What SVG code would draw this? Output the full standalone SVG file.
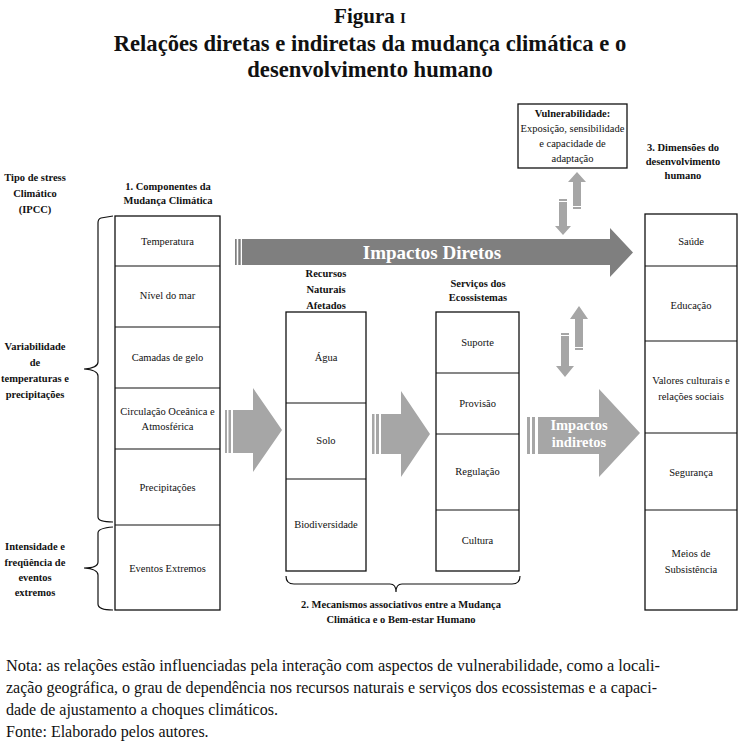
<svg xmlns="http://www.w3.org/2000/svg" width="740" height="746" viewBox="0 0 740 746">
<style>
.t{font-family:"Liberation Serif","Times New Roman",serif;font-size:10.5px;fill:#111;text-anchor:middle}
.b{font-weight:bold}
.ttl{font-family:"Liberation Serif","Times New Roman",serif;font-weight:bold;font-size:22.6px;fill:#111;text-anchor:middle}
.note{font-family:"Liberation Serif","Times New Roman",serif;font-size:16px;fill:#111}
.box{fill:#fff;stroke:#111;stroke-width:1.3}
.ln{stroke:#111;stroke-width:1.2}
.br{fill:none;stroke:#111;stroke-width:1.2}
.dark{fill:#7f7f7f}
.lite{fill:#a6a6a6}
.wt{font-family:"Liberation Serif","Times New Roman",serif;font-weight:bold;fill:#fff;text-anchor:middle}
</style>
<rect width="740" height="746" fill="#fff"/>

<g id="title">
<text class="ttl" x="370" y="23" style="font-size:21px">Figura <tspan style="font-size:15px">I</tspan></text>
<text class="ttl" x="370" y="51">Relações diretas e indiretas da mudança climática e o</text>
<text class="ttl" x="370" y="77">desenvolvimento humano</text>
</g>

<g id="stress-labels">
<text class="t b" x="35" y="181">Tipo de stress</text>
<text class="t b" x="35" y="197">Climático</text>
<text class="t b" x="35" y="213">(IPCC)</text>
<text class="t b" x="35" y="350">Variabilidade</text>
<text class="t b" x="35" y="366">de</text>
<text class="t b" x="35" y="382">temperaturas e</text>
<text class="t b" x="35" y="398">precipitações</text>
<text class="t b" x="35" y="550">Intensidade e</text>
<text class="t b" x="35" y="566">freqüência de</text>
<text class="t b" x="35" y="581">eventos</text>
<text class="t b" x="35" y="596">extremos</text>
<path class="br" d="M113,216 L101,218 Q98,219 98,223 L98,362 Q98,368 84,369 Q98,370 98,376 L98,517 Q98,522 113,522"/>
<path class="br" d="M113,527 Q98,528 98,533 L98,562 Q98,568 84,568 Q98,569 98,575 L98,604 Q98,610 113,610"/>
</g>

<g id="col1">
<text class="t b" x="168" y="190">1. Componentes da</text>
<text class="t b" x="168" y="204">Mudança Climática</text>
<rect class="box" x="115" y="216" width="105" height="394"/>
<line class="ln" x1="115" y1="266" x2="220" y2="266"/>
<line class="ln" x1="115" y1="327" x2="220" y2="327"/>
<line class="ln" x1="115" y1="388" x2="220" y2="388"/>
<line class="ln" x1="115" y1="449" x2="220" y2="449"/>
<line class="ln" x1="115" y1="525" x2="220" y2="525"/>
<text class="t" x="167.5" y="245">Temperatura</text>
<text class="t" x="167.5" y="299">Nível do mar</text>
<text class="t" x="167.5" y="361">Camadas de gelo</text>
<text class="t" x="167.5" y="415">Circulação Oceânica e</text>
<text class="t" x="167.5" y="430">Atmosférica</text>
<text class="t" x="167.5" y="491">Precipitações</text>
<text class="t" x="167.5" y="572">Eventos Extremos</text>
</g>

<g id="col2">
<text class="t b" x="326" y="277">Recursos</text>
<text class="t b" x="326" y="293">Naturais</text>
<text class="t b" x="326" y="309">Afetados</text>
<rect class="box" x="286" y="312" width="80" height="259"/>
<line class="ln" x1="286" y1="403" x2="366" y2="403"/>
<line class="ln" x1="286" y1="479" x2="366" y2="479"/>
<text class="t" x="326" y="361">Água</text>
<text class="t" x="326" y="444">Solo</text>
<text class="t" x="326" y="528">Biodiversidade</text>
</g>

<g id="col3">
<text class="t b" x="478" y="287">Serviços dos</text>
<text class="t b" x="478" y="301">Ecossistemas</text>
<rect class="box" x="436" y="312" width="83" height="259"/>
<line class="ln" x1="436" y1="373" x2="519" y2="373"/>
<line class="ln" x1="436" y1="434" x2="519" y2="434"/>
<line class="ln" x1="436" y1="510" x2="519" y2="510"/>
<text class="t" x="477.5" y="346">Suporte</text>
<text class="t" x="477.5" y="407">Provisão</text>
<text class="t" x="477.5" y="475">Regulação</text>
<text class="t" x="477.5" y="544">Cultura</text>
</g>

<g id="col4">
<text class="t b" x="683" y="151">3. Dimensões do</text>
<text class="t b" x="683" y="165">desenvolvimento</text>
<text class="t b" x="683" y="179">humano</text>
<rect class="box" x="645" y="214" width="92" height="396"/>
<line class="ln" x1="645" y1="266" x2="737" y2="266"/>
<line class="ln" x1="645" y1="341" x2="737" y2="341"/>
<line class="ln" x1="645" y1="433" x2="737" y2="433"/>
<line class="ln" x1="645" y1="510" x2="737" y2="510"/>
<text class="t" x="691" y="245">Saúde</text>
<text class="t" x="691" y="309">Educação</text>
<text class="t" x="691" y="384">Valores culturais e</text>
<text class="t" x="691" y="400">relações sociais</text>
<text class="t" x="691" y="476">Segurança</text>
<text class="t" x="691" y="557">Meios de</text>
<text class="t" x="691" y="573">Subsistência</text>
</g>

<g id="vulnerabilidade">
<rect class="box" x="518" y="104" width="109" height="64"/>
<text class="t b" x="572.5" y="117">Vulnerabilidade:</text>
<text class="t" x="572.5" y="132">Exposição, sensibilidade</text>
<text class="t" x="572.5" y="147">e capacidade de</text>
<text class="t" x="572.5" y="162">adaptação</text>
</g>

<g id="mecanismos">
<path class="br" d="M286,576 Q286,584 294,584 L390,584 Q396,584 396,592 Q396,584 402,584 L512,584 Q520,584 520,576"/>
<text class="t b" x="401" y="608">2. Mecanismos associativos entre a Mudança</text>
<text class="t b" x="401" y="623">Climática e o Bem-estar Humano</text>
</g>

<g id="connectors">
<g id="impactos-diretos">
<rect class="dark" x="235" y="239" width="1.7" height="26"/>
<rect class="dark" x="238.3" y="239" width="2.4" height="26"/>
<polygon class="dark" points="242,239 610,239 610,228 633,252.5 610,277 610,265 242,265"/>
<text class="wt" x="432" y="259" style="font-size:19px">Impactos Diretos</text>
</g>
<g id="arrow-1-2">
<rect class="lite" x="225" y="410" width="2" height="43"/>
<rect class="lite" x="228.5" y="410" width="2.5" height="43"/>
<polygon class="lite" points="233,410 253,410 253,388 282,430 253,472 253,453 233,453"/>
</g>
<g id="arrow-2-3">
<rect class="lite" x="372" y="414" width="2.5" height="40"/>
<rect class="lite" x="376" y="414" width="3" height="40"/>
<polygon class="lite" points="381,414 401,414 401,391 430,434 401,477 401,454 381,454"/>
</g>
<g id="impactos-indiretos">
<rect class="lite" x="527" y="417" width="3" height="37"/>
<rect class="lite" x="532" y="417" width="3" height="37"/>
<polygon class="lite" points="538,417 599,417 599,389 640,433 599,477 599,454 538,454"/>
<text class="wt" x="579" y="430" style="font-size:14.5px">Impactos</text>
<text class="wt" x="579" y="447" style="font-size:14.5px">indiretos</text>
</g>
<g id="vuln-arrows">
<polygon class="lite" points="573,206 573,182 568,182 577,172 586,182 581,182 581,206"/>
<rect class="lite" x="573" y="207" width="8" height="2"/>
<polygon class="lite" points="559,202 559,226 555,226 563,235 571,226 567,226 567,202"/>
<rect class="lite" x="559" y="199" width="8" height="2"/>
<polygon class="lite" points="575,347 575,319 570,319 579,306 588,319 583,319 583,347"/>
<rect class="lite" x="575" y="348" width="8" height="2"/>
<polygon class="lite" points="561,336 561,366 556,366 565,377 574,366 569,366 569,336"/>
<rect class="lite" x="561" y="333" width="8" height="2"/>
</g>
</g>

<g id="nota">
<text class="note" x="6" y="671" textLength="654" lengthAdjust="spacingAndGlyphs">Nota: as relações estão influenciadas pela interação com aspectos de vulnerabilidade, como a locali-</text>
<text class="note" x="6" y="693" textLength="651" lengthAdjust="spacingAndGlyphs">zação geográfica, o grau de dependência nos recursos naturais e serviços dos ecossistemas e a capaci-</text>
<text class="note" x="6" y="715">dade de ajustamento a choques climáticos.</text>
<text class="note" x="6" y="737">Fonte: Elaborado pelos autores.</text>
</g>
</svg>
